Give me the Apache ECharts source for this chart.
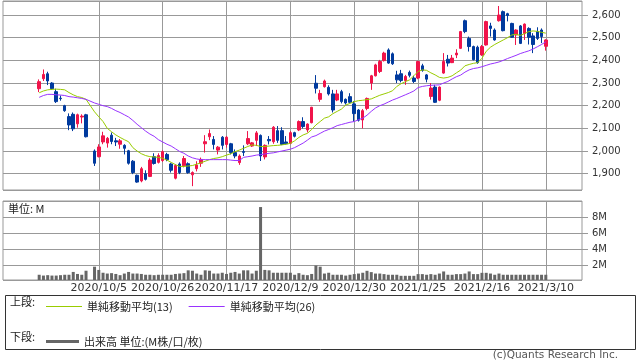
<!DOCTYPE html>
<html><head><meta charset="utf-8">
<script src="https://cdn.jsdelivr.net/npm/echarts/dist/echarts.min.js"></script>
<style>html,body{margin:0;padding:0;background:#fff}#c{width:638px;height:362px}</style>
</head><body><div id="c"></div>
<script>
// ---- data (trading days, 2020/9/11 .. 2021/3/10; 2020/10/1 had no trading) ----
const dates = [
'2020/9/11','2020/9/14','2020/9/15','2020/9/16','2020/9/17','2020/9/18','2020/9/23','2020/9/24','2020/9/25','2020/9/28','2020/9/29','2020/9/30','2020/10/1','2020/10/2',
'2020/10/5','2020/10/6','2020/10/7','2020/10/8','2020/10/9','2020/10/12','2020/10/13','2020/10/14','2020/10/15','2020/10/16','2020/10/19','2020/10/20','2020/10/21','2020/10/22','2020/10/23','2020/10/26','2020/10/27','2020/10/28','2020/10/29','2020/10/30',
'2020/11/2','2020/11/4','2020/11/5','2020/11/6','2020/11/9','2020/11/10','2020/11/11','2020/11/12','2020/11/13','2020/11/16','2020/11/17','2020/11/18','2020/11/19','2020/11/20','2020/11/24','2020/11/25','2020/11/26','2020/11/27','2020/11/30',
'2020/12/1','2020/12/2','2020/12/3','2020/12/4','2020/12/7','2020/12/8','2020/12/9','2020/12/10','2020/12/11','2020/12/14','2020/12/15','2020/12/16','2020/12/17','2020/12/18','2020/12/21','2020/12/22','2020/12/23','2020/12/24','2020/12/25','2020/12/28','2020/12/29','2020/12/30',
'2021/1/4','2021/1/5','2021/1/6','2021/1/7','2021/1/8','2021/1/12','2021/1/13','2021/1/14','2021/1/15','2021/1/18','2021/1/19','2021/1/20','2021/1/21','2021/1/22','2021/1/25','2021/1/26','2021/1/27','2021/1/28','2021/1/29',
'2021/2/1','2021/2/2','2021/2/3','2021/2/4','2021/2/5','2021/2/8','2021/2/9','2021/2/10','2021/2/12','2021/2/15','2021/2/16','2021/2/17','2021/2/18','2021/2/19','2021/2/22','2021/2/24','2021/2/25','2021/2/26',
'2021/3/1','2021/3/2','2021/3/3','2021/3/4','2021/3/5','2021/3/8','2021/3/9','2021/3/10'];

const opens = [2275,2319,2341,2300,2262,2233,2200,2152,2162,2120,2150,2160,null,2000,
1975,2040,2035,2070,2045,2030,2025,2001,1955,1893,1868,1900,1888,1975,1950,1958,1985,1943,1880,1943,
1935,1944,1895,1922,1946,2032,2063,2051,2004,2061,2029,2032,1993,1949,1998,2032,2022,2047,2069,
1974,2051,2041,2090,2090,2040,2034,2081,2093,2130,2093,2125,2299,2228,2284,2281,2252,2225,2262,2228,2240,2208,
2181,2137,2188,2300,2332,2351,2399,2446,2429,2336,2341,2311,2347,2322,2322,2376,2336,2241,2282,
2224,2344,2405,2390,2424,2453,2575,2497,2461,2458,2424,2468,2552,2534,2575,2615,2606,2563,
2512,2552,2519,2541,2508,2527,2534,2462];
const closes = [2306,2338,2309,2275,2218,2231,2178,2115,2098,2160,2154,2063,null,1946,
2018,2067,2056,2042,2040,2045,2012,1946,1905,1863,1922,1875,1960,1945,1980,1997,1962,1915,1936,1905,
1967,1905,1905,1938,1963,2041,2077,2029,2017,2025,2061,1993,1978,1978,1994,2055,2036,2080,1978,
2025,2045,2105,2047,2029,2032,2081,2065,2130,2108,2119,2193,2277,2254,2309,2252,2181,2252,2218,2212,2215,2165,
2136,2178,2232,2332,2380,2395,2432,2388,2385,2314,2311,2329,2334,2307,2395,2356,2317,2278,2215,
2282,2395,2388,2410,2432,2527,2527,2461,2403,2390,2461,2571,2541,2490,2600,2531,2598,2502,
2534,2475,2560,2502,2470,2497,2505,2490];
const lows = [2260,2309,2291,2270,2212,2222,2173,2092,2088,2103,2122,2060,null,1934,
1972,2030,2015,2030,2022,2010,1985,1940,1898,1860,1862,1870,1885,1940,1945,1952,1955,1905,1875,1898,
1928,1900,1845,1910,1930,1993,2048,2007,1985,2007,2015,1985,1968,1939,1978,2026,2018,2022,1956,
1963,2029,2032,2036,2026,2028,2030,2060,2088,2100,2082,2122,2254,2217,2280,2245,2170,2220,2210,2205,2210,2130,
2130,2100,2180,2270,2329,2344,2395,2385,2380,2300,2303,2292,2325,2300,2317,2350,2303,2227,2212,
2220,2341,2373,2388,2410,2450,2520,2439,2400,2385,2420,2465,2505,2487,2571,2528,2572,2500,
2468,2472,2490,2470,2432,2490,2476,2443];
const highs = [2316,2360,2350,2304,2275,2245,2204,2166,2170,2165,2162,2164,null,2007,
2030,2085,2062,2082,2058,2053,2030,2005,1960,1896,1930,1915,1968,1990,1990,2003,1992,1948,1942,1950,
1978,1950,1910,1955,1971,2070,2095,2066,2022,2066,2066,2036,2007,1985,2025,2088,2040,2088,2073,
2029,2066,2110,2110,2105,2066,2088,2085,2135,2149,2122,2195,2335,2270,2315,2290,2270,2270,2270,2232,2255,2220,
2185,2185,2236,2336,2385,2402,2438,2453,2435,2354,2358,2336,2355,2332,2398,2385,2340,2300,2292,
2285,2432,2424,2424,2449,2530,2580,2505,2465,2465,2468,2575,2566,2541,2640,2620,2610,2566,
2537,2556,2563,2546,2520,2546,2541,2493];
const ma13 = [2257,2265,2270,2272,2273,2272,2270,2258,2248,2240,2236,2228,null,2173,
2151,2130,2100,2085,2071,2060,2050,2041,2015,2000,1988,1980,1975,1974,1972,1968,1960,1950,1940,1932,
1932,1934,1936,1942,1948,1955,1962,1967,1970,1975,1982,1988,1997,2004,2012,2020,2027,2025,2020,
2020,2022,2024,2025,2027,2030,2034,2045,2060,2071,2078,2095,2115,2130,2145,2151,2165,2175,2185,2203,2210,2218,
2222,2224,2227,2230,2238,2246,2252,2258,2266,2285,2297,2306,2314,2332,2351,2358,2356,2345,2336,
2325,2322,2325,2332,2345,2357,2376,2382,2387,2390,2409,2440,2458,2470,2480,2490,2500,2512,
2515,2510,2518,2527,2530,2528,2524,2520];
const ma26 = [2237,2245,2250,2250,2248,2247,2245,2240,2238,2235,2232,2228,null,2212,
2206,2200,2196,2188,2178,2170,2160,2150,2135,2118,2103,2088,2075,2065,2050,2040,2030,2022,2010,1998,
1990,1978,1970,1965,1962,1962,1962,1962,1962,1962,1962,1960,1958,1958,1972,1975,1978,1982,1984,
1987,1990,1992,1996,2000,2004,2008,2015,2025,2035,2048,2062,2068,2078,2088,2095,2103,2112,2117,2122,2127,2130,
2138,2145,2158,2175,2190,2200,2207,2216,2225,2232,2240,2248,2256,2265,2280,2285,2288,2290,2291,
2292,2300,2307,2318,2328,2335,2348,2358,2364,2367,2372,2378,2384,2388,2393,2400,2408,2415,
2422,2430,2436,2442,2450,2460,2470,2482];
const volumes = [0.85,0.75,0.8,0.75,0.75,0.8,0.85,0.85,1.2,0.95,0.85,1.35,null,1.85,
1.45,1.1,1.0,1.05,0.95,0.8,1.0,1.2,1.0,1.0,0.95,0.85,0.85,0.8,0.85,0.85,0.85,0.85,0.95,1.0,
1.05,1.4,1.35,1.0,0.85,1.4,1.35,1.0,1.0,1.1,0.95,1.1,1.2,1.0,1.4,1.4,1.0,1.35,9.25,
1.45,1.4,1.1,1.1,1.1,1.1,1.1,0.85,1.05,0.85,0.8,0.95,2.0,1.85,1.0,1.1,0.85,0.85,0.85,0.75,0.85,0.93,
1.0,1.1,1.34,1.18,1.0,1.0,0.93,0.85,0.85,0.85,0.72,0.72,0.72,0.72,0.93,0.93,0.85,0.93,0.85,
1.0,1.26,0.85,0.85,0.93,0.93,1.0,1.26,0.93,0.93,1.09,1.09,1.0,0.85,1.0,0.85,0.85,0.85,
0.85,0.85,0.85,0.85,0.85,0.85,0.85,0.85];
const xLabels = ['2020/10/5','2020/10/26','2020/11/17','2020/12/9','2020/12/30','2021/1/25','2021/2/16','2021/3/10'];
const legendUpper = ['単純移動平均(13)','単純移動平均(26)'];
const legendLower = ['出来高 単位:(M株/口/枚)'];

// ---- build ----
const PAD = 8;
const cats = [];
for (let i = 0; i < PAD; i++) cats.push('pre' + i);
dates.forEach(d => cats.push(d));
for (let i = 0; i < PAD; i++) cats.push('post' + i);
const padArr = () => new Array(PAD).fill(null);
const candle = padArr().map(() => ['-','-','-','-'])
  .concat(dates.map((d, i) => opens[i] == null ? ['-','-','-','-'] : [opens[i], closes[i], lows[i], highs[i]]))
  .concat(padArr().map(() => ['-','-','-','-']));
const full = a => padArr().concat(a).concat(padArr());
const isLab = (i, v) => xLabels.indexOf(v) >= 0;

const RED = '#f0144a', BLUE = '#003a9e', GRID = '#999';
const chart = echarts.init(document.getElementById('c'), null, {renderer: 'canvas'});
const baseX = {
  type: 'category', data: cats, boundaryGap: true,
  axisLine: {show: false}, axisTick: {show: false},
  splitLine: {show: true, interval: isLab, alignWithLabel: true, lineStyle: {color: GRID, width: 1}}
};
chart.setOption({
  animation: false,
  backgroundColor: '#fff',
  textStyle: {fontFamily: 'DejaVu Sans'},
  grid: [
    {left: 3, right: 56, top: 1, height: 189, show: true, borderColor: GRID, borderWidth: 1, backgroundColor: 'transparent'},
    {left: 3, right: 56, top: 201, height: 79, show: true, borderColor: GRID, borderWidth: 1, backgroundColor: 'transparent'}
  ],
  xAxis: [
    Object.assign({}, baseX, {gridIndex: 0, axisLabel: {show: false}}),
    Object.assign({}, baseX, {gridIndex: 1, axisLabel: {show: true, interval: isLab, fontSize: 11, color: '#333', margin: 3, fontFamily: 'DejaVu Sans'}})
  ],
  yAxis: [
    {gridIndex: 0, type: 'value', position: 'right', min: 1828, max: 2662, minInterval: 100, maxInterval: 100, splitNumber: 8,
     axisLine: {show: false}, axisTick: {show: true, length: 6, lineStyle: {color: GRID}},
     splitLine: {show: true, lineStyle: {color: GRID, width: 1}},
     axisLabel: {showMinLabel: false, showMaxLabel: false, fontSize: 10, color: '#333', margin: 10,
       formatter: v => Math.round(v).toLocaleString('en-US')}},
    {gridIndex: 1, type: 'value', position: 'right', min: 0.2, max: 10, minInterval: 2, maxInterval: 2, splitNumber: 5,
     axisLine: {show: false}, axisTick: {show: true, length: 6, lineStyle: {color: GRID}},
     splitLine: {show: true, lineStyle: {color: GRID, width: 1}},
     axisLabel: {showMinLabel: false, showMaxLabel: false, fontSize: 10, color: '#333', margin: 10,
       formatter: v => v + 'M'}}
  ],
  legend: [
    {data: legendUpper, left: 41, top: 296, icon: 'rect', itemWidth: 36, itemHeight: 1, itemGap: 16,
     textStyle: {fontSize: 11, color: '#222', fontFamily: 'Noto Sans CJK JP'}, selectedMode: false},
    {data: legendLower, left: 41, top: 331, icon: 'rect', itemWidth: 33, itemHeight: 3, itemGap: 10,
     textStyle: {fontSize: 11, color: '#222', fontFamily: 'Noto Sans CJK JP'}, selectedMode: false}
  ],
  graphic: [
    {type: 'rect', left: 3, top: 293, shape: {width: 630, height: 54}, style: {fill: 'none', stroke: '#333', lineWidth: 1}},
    {type: 'text', left: 10, top: 296, style: {text: '上段:', fontSize: 11, fill: '#222', fontFamily: 'Noto Sans CJK JP'}},
    {type: 'text', left: 10, top: 331, style: {text: '下段:', fontSize: 11, fill: '#222', fontFamily: 'Noto Sans CJK JP'}},
    {type: 'text', left: 8, top: 203, style: {text: '単位: M', fontSize: 11, fill: '#222', fontFamily: 'Noto Sans CJK JP'}},
    {type: 'text', right: 20, top: 350, style: {text: '(c)Quants Research Inc.', fontSize: 10.5, fill: '#555', fontFamily: 'DejaVu Sans'}}
  ],
  series: [
    {type: 'candlestick', name: '株価', xAxisIndex: 0, yAxisIndex: 0, data: candle, barWidth: 3,
     itemStyle: {color: RED, color0: BLUE, borderColor: RED, borderColor0: BLUE, borderWidth: 1}},
    {type: 'line', name: legendUpper[0], xAxisIndex: 0, yAxisIndex: 0, data: full(ma13), symbol: 'none', connectNulls: true,
     lineStyle: {color: '#99cc00', width: 1}, itemStyle: {color: '#99cc00'}},
    {type: 'line', name: legendUpper[1], xAxisIndex: 0, yAxisIndex: 0, data: full(ma26), symbol: 'none', connectNulls: true,
     lineStyle: {color: '#9933ff', width: 1}, itemStyle: {color: '#9933ff'}},
    {type: 'bar', name: legendLower[0], xAxisIndex: 1, yAxisIndex: 1, data: full(volumes), barWidth: 3,
     itemStyle: {color: '#666'}}
  ]
});
</script></body></html>
